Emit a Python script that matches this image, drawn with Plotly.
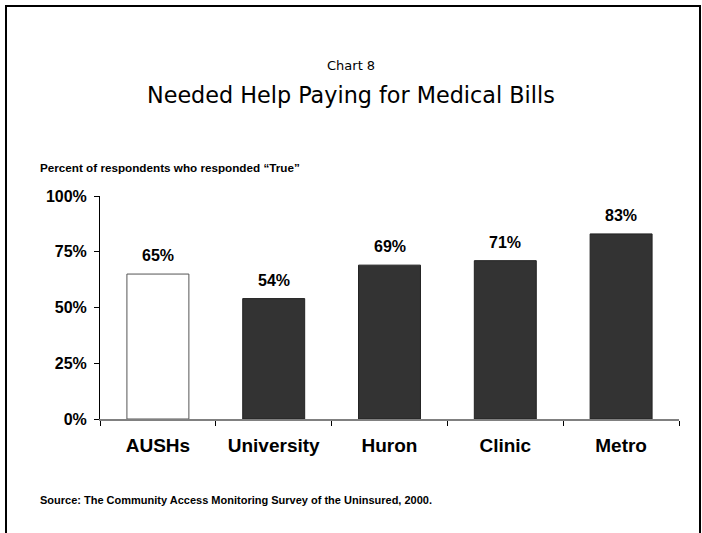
import plotly.graph_objects as go

categories = ["AUSHs", "University", "Huron", "Clinic", "Metro"]
values = [65, 54, 69, 71, 83]
value_labels = ["65%", "54%", "69%", "71%", "83%"]
tick_vals = [0, 25, 50, 75, 100]
tick_text = ["0%", "25%", "50%", "75%", "100%"]

bar_colors = ["#ffffff", "#333333", "#333333", "#333333", "#333333"]
line_colors = ["#555555", "#222222", "#222222", "#222222", "#222222"]

FONT = "Arial, Liberation Sans"

fig = go.Figure()
fig.add_trace(go.Bar(
    x=categories, y=values,
    marker=dict(color=bar_colors, line=dict(color=line_colors, width=1)),
    width=0.535,
    hoverinfo="skip",
))

for c, v, t in zip(categories, values, value_labels):
    fig.add_annotation(x=c, y=v, text="<b>%s</b>" % t, showarrow=False, yanchor="bottom",
                       yshift=8, font=dict(family=FONT, size=16, color="#000"))

L, R, T, B = 100, 23, 196, 114
W, H = 702, 533
pw, ph = W - L - R, H - T - B

def px_x(x):
    return (x - L) / pw

def px_y(y):
    return (H - B - y) / ph

fig.add_shape(type="rect", xref="paper", yref="paper",
              x0=px_x(6), x1=px_x(700), y0=px_y(560), y1=px_y(6),
              line=dict(color="#000", width=2), fillcolor="rgba(0,0,0,0)", layer="above")

fig.add_annotation(xref="paper", yref="paper", x=px_x(351), y=px_y(65), text="Chart 8",
                   showarrow=False, xanchor="center", yanchor="middle",
                   font=dict(family="DejaVu Sans", size=13, color="#000"))
fig.add_annotation(xref="paper", yref="paper", x=px_x(351), y=px_y(95),
                   text="Needed Help Paying for Medical Bills",
                   showarrow=False, xanchor="center", yanchor="middle",
                   font=dict(family="DejaVu Sans", size=22.3, color="#000"))
fig.add_annotation(xref="paper", yref="paper", x=px_x(38), y=px_y(167),
                   text="<b>Percent of respondents who responded \u201cTrue\u201d</b>",
                   showarrow=False, xanchor="left", yanchor="middle",
                   font=dict(family=FONT, size=11.7, color="#000"))
fig.add_annotation(xref="paper", yref="paper", x=px_x(38), y=px_y(500),
                   text="<b>Source: The Community Access Monitoring Survey of the Uninsured, 2000.</b>",
                   showarrow=False, xanchor="left", yanchor="middle",
                   font=dict(family=FONT, size=11, color="#000"))

fig.update_layout(
    width=W, height=H,
    margin=dict(l=L, r=R, t=T, b=B, pad=0),
    paper_bgcolor="#ffffff", plot_bgcolor="#ffffff",
    showlegend=False,
    font=dict(family=FONT, color="#000"),
)
fig.update_xaxes(
    showline=True, linecolor="#808080", linewidth=2,
    ticks="outside", ticklen=5, tickcolor="#000", tickwidth=1,
    tickson="boundaries",
    tickfont=dict(family=FONT, size=19, color="#000"),
    ticklabelstandoff=8,
    showgrid=False, zeroline=False,
    tickprefix="<b>", ticksuffix="</b>",
)
fig.update_yaxes(
    range=[0, 100], tickvals=tick_vals, ticktext=["<b>%s</b>" % t for t in tick_text],
    showline=True, linecolor="#000", linewidth=1,
    ticks="outside", ticklen=5, tickcolor="#000",
    tickfont=dict(family=FONT, size=16, color="#000"),
    ticklabelstandoff=4,
    showgrid=False, zeroline=False,
)

fig.write_html("out.html", config={"displayModeBar": False},
               post_script="document.body.style.margin='0';document.body.style.overflow='hidden';")
